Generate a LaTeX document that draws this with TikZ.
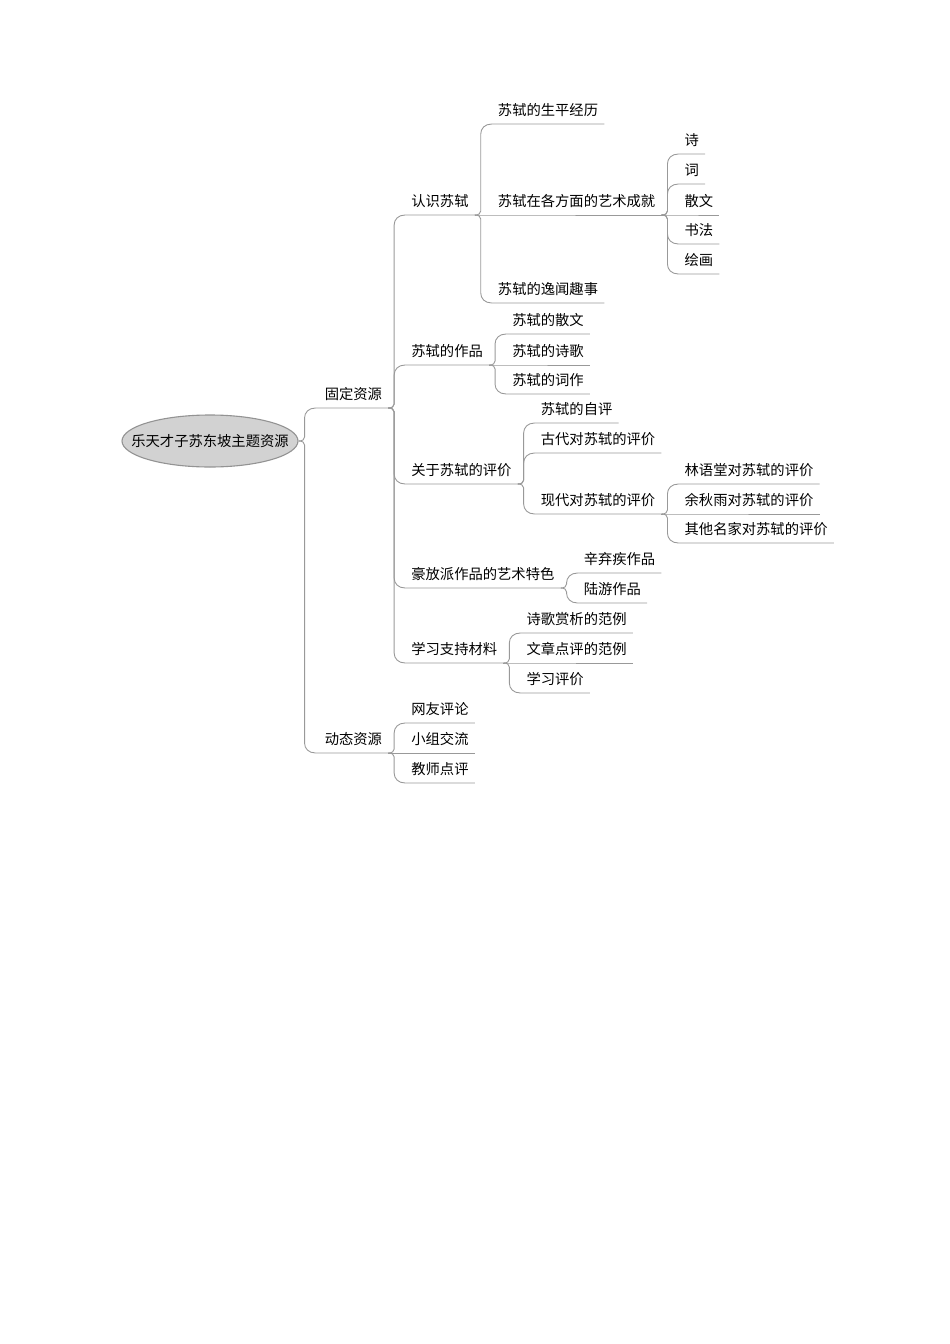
\documentclass[tikz,border=0pt]{standalone}
\usepackage{fontspec}
\setmainfont{Noto Sans CJK SC}
\usetikzlibrary{positioning,calc,shapes.geometric}
\colorlet{linkgray}{gray!80}
\colorlet{rootgray}{gray!35}

\tikzset{
  item/.style={inner xsep=6pt, inner ysep=8pt, text depth=0pt, text=black,
               font=\fontsize{14.3}{16}\selectfont},
  link/.style={draw=linkgray, line width=0.9pt},
  branch/.style={to path={
      let \p1=(\tikztostart), \p2=(\tikztotarget),
          \n1={sign(\y2-\y1)}, \n2={abs(\y2-\y1)},
          \n3={(\n1)*min(4,\n2/3)}, \n4={(\n1)*min(10,2*\n2/3)} in
      (\p1) .. controls ({\x1+4pt},\y1) and ({\x1+6pt},{\y1+0.4*(\n3)*1pt}) ..
      ({\x1+6pt},{\y1+(\n3)*1pt}) -- ({\x1+6pt},{\y2-(\n4)*1pt})
      .. controls ({\x1+6pt},{\y2-0.45*(\n4)*1pt}) and ({\x1+10pt},\y2) ..
      ({\x1+17pt},\y2) -- (\p2)}}
}

\begin{document}
\begin{tikzpicture}[x=1pt,y=-1pt]
    \useasboundingbox (0,0) rectangle (950,1344);
    % root
    \node[ellipse, minimum width=176pt, minimum height=52pt, fill=rootgray, draw=gray!85,
          line width=1.1pt, inner sep=0pt, text=black, font=\fontsize{14.3}{16}\selectfont]
          (root) at (210,441) {\makebox[122pt][c]{乐天才子苏东坡主题资源}};
    % first level
    \node[item, right=20pt of root.east, anchor=south west, yshift=33pt] (fixed) {固定资源};
    \node[item, right=20pt of root.east, anchor=south west, yshift=-312pt] (dynamic) {动态资源};
    % fixed resources
    \node[item, right=17pt of fixed.south east, anchor=south west, yshift=193pt] (know) {认识苏轼};
    \node[item, right=17pt of fixed.south east, anchor=south west, yshift=43pt] (works) {苏轼的作品};
    \node[item, right=17pt of fixed.south east, anchor=south west, yshift=-76pt] (comment) {关于苏轼的评价};
    \node[item, right=17pt of fixed.south east, anchor=south west, yshift=-180pt] (bold) {豪放派作品的艺术特色};
    \node[item, right=17pt of fixed.south east, anchor=south west, yshift=-255pt] (support) {学习支持材料};
    % know
    \node[item, right=17pt of know.south east, anchor=south west, yshift=91pt] (life) {苏轼的生平经历};
    \node[item, right=17pt of know.south east, anchor=south west] (art) {苏轼在各方面的艺术成就};
    \node[item, right=17pt of know.south east, anchor=south west, yshift=-88pt] (anec) {苏轼的逸闻趣事};
    \node[item, right=17pt of art.south east, anchor=south west, yshift=61pt] (shi) {诗};
    \node[item, right=17pt of art.south east, anchor=south west, yshift=31pt] (ci) {词};
    \node[item, right=17pt of art.south east, anchor=south west] (sanwen) {散文};
    \node[item, right=17pt of art.south east, anchor=south west, yshift=-29pt] (shufa) {书法};
    \node[item, right=17pt of art.south east, anchor=south west, yshift=-59pt] (huihua) {绘画};
    % works
    \node[item, right=17pt of works.south east, anchor=south west, yshift=31pt] (wa) {苏轼的散文};
    \node[item, right=17pt of works.south east, anchor=south west] (wb) {苏轼的诗歌};
    \node[item, right=17pt of works.south east, anchor=south west, yshift=-29pt] (wc) {苏轼的词作};
    % comment
    \node[item, right=17pt of comment.south east, anchor=south west, yshift=61pt] (ca) {苏轼的自评};
    \node[item, right=17pt of comment.south east, anchor=south west, yshift=31pt] (cb) {古代对苏轼的评价};
    \node[item, right=17pt of comment.south east, anchor=south west, yshift=-30pt] (cc) {现代对苏轼的评价};
    \node[item, right=17pt of cc.south east, anchor=south west, yshift=30pt] (ma) {林语堂对苏轼的评价};
    \node[item, right=17pt of cc.south east, anchor=south west] (mb) {余秋雨对苏轼的评价};
    \node[item, right=17pt of cc.south east, anchor=south west, yshift=-29pt] (mc) {其他名家对苏轼的评价};
    % bold
    \node[item, right=17pt of bold.south east, anchor=south west, yshift=15pt] (ba) {辛弃疾作品};
    \node[item, right=17pt of bold.south east, anchor=south west, yshift=-15pt] (bb) {陆游作品};
    % support
    \node[item, right=17pt of support.south east, anchor=south west, yshift=30pt] (sa) {诗歌赏析的范例};
    \node[item, right=17pt of support.south east, anchor=south west] (sb) {文章点评的范例};
    \node[item, right=17pt of support.south east, anchor=south west, yshift=-30pt] (sc) {学习评价};
    % dynamic
    \node[item, right=17pt of dynamic.south east, anchor=south west, yshift=30pt] (da) {网友评论};
    \node[item, right=17pt of dynamic.south east, anchor=south west] (db) {小组交流};
    \node[item, right=17pt of dynamic.south east, anchor=south west, yshift=-30pt] (dc) {教师点评};
    % connectors
    \foreach \a/\b in {root.east/fixed, root.east/dynamic,
        fixed.south east/know, fixed.south east/works, fixed.south east/comment,
        fixed.south east/bold, fixed.south east/support,
        know.south east/life, know.south east/art, know.south east/anec,
        art.south east/shi, art.south east/ci, art.south east/sanwen,
        art.south east/shufa, art.south east/huihua,
        works.south east/wa, works.south east/wb, works.south east/wc,
        comment.south east/ca, comment.south east/cb, comment.south east/cc,
        cc.south east/ma, cc.south east/mb, cc.south east/mc,
        bold.south east/ba, bold.south east/bb,
        support.south east/sa, support.south east/sb, support.south east/sc,
        dynamic.south east/da, dynamic.south east/db, dynamic.south east/dc}{
        \draw[link] (\a) to[branch] (\b.south west) -- (\b.south east);
    }
\end{tikzpicture}
\end{document}
